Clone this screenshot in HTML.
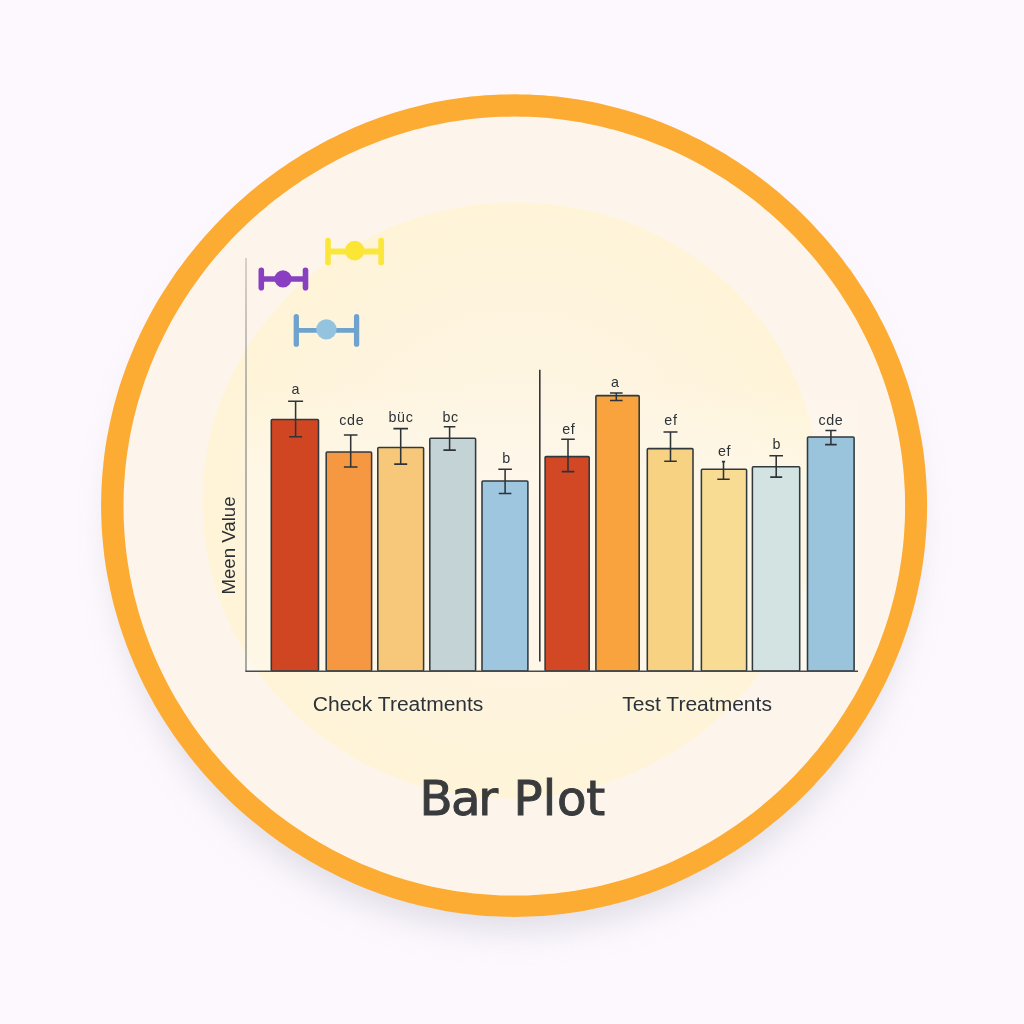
<!DOCTYPE html>
<html lang="en"><head><meta charset="utf-8"><title>Bar Plot</title>
<style>
html,body{margin:0;padding:0;background:#fcf8fd;}
body{width:1024px;height:1024px;overflow:hidden;position:relative;font-family:"Liberation Sans",Arial,sans-serif;}
svg{position:absolute;left:0;top:0;display:block}
text{font-family:"Liberation Sans",Arial,sans-serif;}
</style></head><body>
<svg width="1024" height="1024" viewBox="0 0 1024 1024">
<defs>
<radialGradient id="yg" gradientUnits="userSpaceOnUse" cx="520" cy="500" r="305"><stop offset="0" stop-color="#fdf5e5"/><stop offset="0.6" stop-color="#fef4df"/><stop offset="1" stop-color="#fff4d8"/></radialGradient>
<linearGradient id="pl" x1="0" y1="0" x2="0" y2="1"><stop offset="0" stop-color="#fffaf0" stop-opacity="0"/><stop offset="0.35" stop-color="#fffaf0" stop-opacity="0.55"/><stop offset="1" stop-color="#fffaf0" stop-opacity="0.55"/></linearGradient>
<linearGradient id="ax" gradientUnits="userSpaceOnUse" x1="0" y1="258" x2="0" y2="671"><stop offset="0" stop-color="#c9c5bf"/><stop offset="0.3" stop-color="#a3a19b"/><stop offset="1" stop-color="#8d8d89"/></linearGradient>
<filter id="sh" x="-20%" y="-20%" width="140%" height="140%"><feGaussianBlur stdDeviation="16"/></filter>
</defs>
<rect width="1024" height="1024" fill="#fcf8fd"/>
<ellipse cx="514" cy="530" rx="402" ry="400" fill="#cfccd8" opacity="0.62" filter="url(#sh)"/>
<path d="M927.1 505.6L927.0 512.8L926.8 520.0L926.5 527.2L926.0 534.4L925.4 541.6L924.7 548.8L923.9 555.9L922.9 563.1L921.8 570.2L920.5 577.3L919.1 584.3L917.6 591.4L916.0 598.4L914.3 605.4L912.4 612.3L910.4 619.2L908.3 626.1L906.0 632.9L903.6 639.7L901.2 646.5L898.5 653.2L895.8 659.8L893.0 666.4L890.0 673.0L887.0 679.5L883.8 685.9L880.5 692.3L877.1 698.6L873.6 704.9L870.0 711.1L866.3 717.2L862.4 723.3L858.5 729.3L854.5 735.2L850.4 741.1L846.1 746.8L841.8 752.6L837.4 758.2L832.9 763.8L828.3 769.2L823.6 774.7L818.8 780.0L814.0 785.2L809.0 790.4L804.0 795.5L798.9 800.5L793.7 805.4L788.4 810.2L783.0 814.9L777.6 819.6L772.0 824.1L766.4 828.6L760.8 832.9L755.0 837.2L749.2 841.4L743.3 845.5L737.4 849.4L731.4 853.3L725.3 857.1L719.1 860.7L712.9 864.3L706.7 867.8L700.3 871.1L693.9 874.3L687.5 877.5L681.0 880.5L674.5 883.4L667.9 886.2L661.2 888.9L654.5 891.4L647.8 893.9L641.0 896.2L634.2 898.4L627.3 900.5L620.4 902.5L613.5 904.3L606.5 906.0L599.6 907.6L592.5 909.1L585.5 910.4L578.4 911.7L571.3 912.8L564.2 913.7L557.1 914.6L549.9 915.3L542.8 915.9L535.6 916.3L528.5 916.6L521.3 916.8L514.1 916.9L506.9 916.8L499.7 916.6L492.6 916.3L485.4 915.9L478.3 915.3L471.1 914.6L464.0 913.7L456.9 912.8L449.8 911.7L442.7 910.4L435.7 909.1L428.6 907.6L421.7 906.0L414.7 904.3L407.8 902.5L400.9 900.5L394.0 898.4L387.2 896.2L380.4 893.9L373.7 891.4L367.0 888.9L360.3 886.2L353.7 883.4L347.2 880.5L340.7 877.5L334.3 874.3L327.9 871.1L321.5 867.8L315.3 864.3L309.1 860.7L302.9 857.1L296.8 853.3L290.8 849.4L284.9 845.5L279.0 841.4L273.2 837.2L267.4 832.9L261.8 828.6L256.2 824.1L250.6 819.6L245.2 814.9L239.8 810.2L234.5 805.4L229.3 800.5L224.2 795.5L219.2 790.4L214.2 785.2L209.4 780.0L204.6 774.7L199.9 769.2L195.3 763.8L190.8 758.2L186.4 752.6L182.1 746.8L177.8 741.1L173.7 735.2L169.7 729.3L165.8 723.3L161.9 717.2L158.2 711.1L154.6 704.9L151.1 698.6L147.7 692.3L144.4 685.9L141.2 679.5L138.2 673.0L135.2 666.4L132.4 659.8L129.7 653.2L127.0 646.5L124.6 639.7L122.2 632.9L119.9 626.1L117.8 619.2L115.8 612.3L113.9 605.4L112.2 598.4L110.6 591.4L109.1 584.3L107.7 577.3L106.4 570.2L105.3 563.1L104.3 555.9L103.5 548.8L102.8 541.6L102.2 534.4L101.7 527.2L101.4 520.0L101.2 512.8L101.1 505.6L101.2 498.4L101.4 491.2L101.7 484.0L102.2 476.8L102.8 469.6L103.5 462.4L104.3 455.3L105.3 448.1L106.4 441.0L107.7 433.9L109.1 426.9L110.6 419.8L112.2 412.8L113.9 405.8L115.8 398.9L117.8 392.0L119.9 385.1L122.2 378.3L124.6 371.5L127.0 364.7L129.7 358.0L132.4 351.4L135.2 344.8L138.2 338.2L141.2 331.7L144.4 325.3L147.7 318.9L151.1 312.6L154.6 306.3L158.2 300.1L161.9 294.0L165.8 287.9L169.7 281.9L173.7 276.0L177.8 270.1L182.1 264.4L186.4 258.6L190.8 253.0L195.3 247.4L199.9 242.0L204.6 236.5L209.4 231.2L214.2 226.0L219.2 220.8L224.2 215.7L229.3 210.7L234.5 205.8L239.8 201.0L245.2 196.3L250.6 191.6L256.2 187.1L261.8 182.6L267.4 178.3L273.2 174.0L279.0 169.8L284.9 165.7L290.8 161.8L296.8 157.9L302.9 154.1L309.1 150.5L315.3 146.9L321.5 143.4L327.9 140.1L334.3 136.9L340.7 133.7L347.2 130.7L353.7 127.8L360.3 125.0L367.0 122.3L373.7 119.8L380.4 117.3L387.2 115.0L394.0 112.8L400.9 110.7L407.8 108.7L414.7 106.9L421.7 105.2L428.6 103.6L435.7 102.1L442.7 100.8L449.8 99.5L456.9 98.4L464.0 97.5L471.1 96.6L478.3 95.9L485.4 95.3L492.6 94.9L499.7 94.6L506.9 94.4L514.1 94.3L521.3 94.4L528.5 94.6L535.6 94.9L542.8 95.3L549.9 95.9L557.1 96.6L564.2 97.5L571.3 98.4L578.4 99.5L585.5 100.8L592.5 102.1L599.6 103.6L606.5 105.2L613.5 106.9L620.4 108.7L627.3 110.7L634.2 112.8L641.0 115.0L647.8 117.3L654.5 119.8L661.2 122.3L667.9 125.0L674.5 127.8L681.0 130.7L687.5 133.7L693.9 136.9L700.3 140.1L706.7 143.4L712.9 146.9L719.1 150.5L725.3 154.1L731.4 157.9L737.4 161.8L743.3 165.7L749.2 169.8L755.0 174.0L760.8 178.3L766.4 182.6L772.0 187.1L777.6 191.6L783.0 196.3L788.4 201.0L793.7 205.8L798.9 210.7L804.0 215.7L809.0 220.8L814.0 226.0L818.8 231.2L823.6 236.5L828.3 242.0L832.9 247.4L837.4 253.0L841.8 258.6L846.1 264.4L850.4 270.1L854.5 276.0L858.5 281.9L862.4 287.9L866.3 294.0L870.0 300.1L873.6 306.3L877.1 312.6L880.5 318.9L883.8 325.3L887.0 331.7L890.0 338.2L893.0 344.8L895.8 351.4L898.5 358.0L901.2 364.7L903.6 371.5L906.0 378.3L908.3 385.1L910.4 392.0L912.4 398.9L914.3 405.8L916.0 412.8L917.6 419.8L919.1 426.9L920.5 433.9L921.8 441.0L922.9 448.1L923.9 455.3L924.7 462.4L925.4 469.6L926.0 476.8L926.5 484.0L926.8 491.2L927.0 498.4Z" fill="#fcab33"/>
<path d="M905.1 506.1L905.0 512.9L904.9 519.7L904.5 526.6L904.1 533.4L903.6 540.2L902.9 546.9L902.1 553.7L901.2 560.5L900.1 567.2L899.0 573.9L897.7 580.6L896.3 587.3L894.8 593.9L893.1 600.5L891.4 607.1L889.5 613.7L887.5 620.2L885.4 626.7L883.2 633.1L880.8 639.5L878.4 645.9L875.8 652.2L873.2 658.4L870.4 664.7L867.5 670.8L864.5 676.9L861.4 683.0L858.3 689.0L855.0 694.9L851.6 700.8L848.0 706.6L844.4 712.4L840.7 718.1L837.0 723.7L833.1 729.3L829.1 734.8L825.0 740.2L820.8 745.6L816.6 750.9L812.2 756.1L807.8 761.2L803.3 766.3L798.7 771.3L794.0 776.2L789.2 781.0L784.3 785.7L779.4 790.4L774.4 795.0L769.3 799.4L764.1 803.8L758.9 808.2L753.6 812.4L748.2 816.5L742.8 820.5L737.2 824.5L731.7 828.3L726.0 832.1L720.3 835.8L714.5 839.3L708.7 842.8L702.8 846.1L696.8 849.4L690.8 852.6L684.8 855.6L678.7 858.6L672.5 861.4L666.3 864.2L660.0 866.8L653.7 869.3L647.4 871.7L641.0 874.0L634.6 876.2L628.1 878.3L621.6 880.2L615.0 882.1L608.5 883.8L601.9 885.4L595.2 886.9L588.6 888.3L581.9 889.6L575.2 890.7L568.5 891.7L561.8 892.6L555.0 893.4L548.2 894.1L541.5 894.6L534.7 895.1L527.9 895.4L521.1 895.5L514.3 895.6L507.5 895.5L500.7 895.4L493.9 895.1L487.1 894.6L480.4 894.1L473.6 893.4L466.8 892.6L460.1 891.7L453.4 890.7L446.7 889.6L440.0 888.3L433.4 886.9L426.7 885.4L420.1 883.8L413.6 882.1L407.0 880.2L400.5 878.3L394.0 876.2L387.6 874.0L381.2 871.7L374.9 869.3L368.6 866.8L362.3 864.2L356.1 861.4L349.9 858.6L343.8 855.6L337.8 852.6L331.8 849.4L325.8 846.1L319.9 842.8L314.1 839.3L308.3 835.8L302.6 832.1L296.9 828.3L291.4 824.5L285.8 820.5L280.4 816.5L275.0 812.4L269.7 808.2L264.5 803.8L259.3 799.4L254.2 795.0L249.2 790.4L244.3 785.7L239.4 781.0L234.6 776.2L229.9 771.3L225.3 766.3L220.8 761.2L216.4 756.1L212.0 750.9L207.8 745.6L203.6 740.2L199.5 734.8L195.5 729.3L191.6 723.7L187.9 718.1L184.2 712.4L180.6 706.6L177.0 700.8L173.6 694.9L170.3 689.0L167.2 683.0L164.1 676.9L161.1 670.8L158.2 664.7L155.4 658.4L152.8 652.2L150.2 645.9L147.8 639.5L145.4 633.1L143.2 626.7L141.1 620.2L139.1 613.7L137.2 607.1L135.5 600.5L133.8 593.9L132.3 587.3L130.9 580.6L129.6 573.9L128.5 567.2L127.4 560.5L126.5 553.7L125.7 546.9L125.0 540.2L124.5 533.4L124.1 526.6L123.7 519.7L123.6 512.9L123.5 506.1L123.6 499.3L123.7 492.5L124.1 485.6L124.5 478.8L125.0 472.0L125.7 465.3L126.5 458.5L127.4 451.7L128.5 445.0L129.6 438.3L130.9 431.6L132.3 424.9L133.8 418.3L135.5 411.7L137.2 405.1L139.1 398.5L141.1 392.0L143.2 385.5L145.4 379.1L147.8 372.7L150.2 366.3L152.8 360.0L155.4 353.8L158.2 347.5L161.1 341.4L164.1 335.3L167.2 329.2L170.3 323.2L173.6 317.3L177.0 311.4L180.6 305.6L184.2 299.8L187.9 294.1L191.6 288.5L195.5 282.9L199.5 277.4L203.6 272.0L207.8 266.6L212.0 261.3L216.4 256.1L220.8 251.0L225.3 245.9L229.9 240.9L234.6 236.0L239.4 231.2L244.3 226.5L249.2 221.8L254.2 217.2L259.3 212.8L264.5 208.4L269.7 204.0L275.0 199.8L280.4 195.7L285.8 191.7L291.4 187.7L296.9 183.9L302.6 180.1L308.3 176.4L314.1 172.9L319.9 169.4L325.8 166.1L331.8 162.8L337.8 159.6L343.8 156.6L349.9 153.6L356.1 150.8L362.3 148.0L368.6 145.4L374.9 142.9L381.2 140.5L387.6 138.2L394.0 136.0L400.5 133.9L407.0 132.0L413.6 130.1L420.1 128.4L426.7 126.8L433.4 125.3L440.0 123.9L446.7 122.6L453.4 121.5L460.1 120.5L466.8 119.6L473.6 118.8L480.4 118.1L487.1 117.6L493.9 117.1L500.7 116.8L507.5 116.7L514.3 116.6L521.1 116.7L527.9 116.8L534.7 117.1L541.5 117.6L548.2 118.1L555.0 118.8L561.8 119.6L568.5 120.5L575.2 121.5L581.9 122.6L588.6 123.9L595.2 125.3L601.9 126.8L608.5 128.4L615.0 130.1L621.6 132.0L628.1 133.9L634.6 136.0L641.0 138.2L647.4 140.5L653.7 142.9L660.0 145.4L666.3 148.0L672.5 150.8L678.7 153.6L684.8 156.6L690.8 159.6L696.8 162.8L702.8 166.1L708.7 169.4L714.5 172.9L720.3 176.4L726.0 180.1L731.7 183.9L737.2 187.7L742.8 191.7L748.2 195.7L753.6 199.8L758.9 204.0L764.1 208.4L769.3 212.8L774.4 217.2L779.4 221.8L784.3 226.5L789.2 231.2L794.0 236.0L798.7 240.9L803.3 245.9L807.8 251.0L812.2 256.1L816.6 261.3L820.8 266.6L825.0 272.0L829.1 277.4L833.1 282.9L837.0 288.5L840.7 294.1L844.4 299.8L848.0 305.6L851.6 311.4L855.0 317.3L858.3 323.2L861.4 329.2L864.5 335.3L867.5 341.4L870.4 347.5L873.2 353.8L875.8 360.0L878.4 366.3L880.8 372.7L883.2 379.1L885.4 385.5L887.5 392.0L889.5 398.5L891.4 405.1L893.1 411.7L894.8 418.3L896.3 424.9L897.7 431.6L899.0 438.3L900.1 445.0L901.2 451.7L902.1 458.5L902.9 465.3L903.6 472.0L904.1 478.8L904.5 485.6L904.9 492.5L905.0 499.3Z" fill="#fdf5ec"/>
<path d="M819.6 502.0L819.3 510.1L818.8 518.2L818.0 526.2L817.0 534.3L815.8 542.3L814.4 550.2L812.8 558.1L810.9 566.0L808.8 573.7L806.6 581.5L804.1 589.1L801.4 596.7L798.5 604.2L795.4 611.6L792.2 618.9L788.7 626.1L785.1 633.2L781.2 640.2L777.2 647.1L773.1 653.9L768.7 660.5L764.2 667.1L759.5 673.5L754.7 679.8L749.7 685.9L744.5 691.9L739.2 697.8L733.8 703.5L728.2 709.1L722.5 714.5L716.7 719.8L710.7 724.9L704.6 729.9L698.4 734.7L692.1 739.3L685.7 743.8L679.2 748.1L672.5 752.3L665.8 756.3L659.0 760.1L652.1 763.7L645.1 767.2L638.1 770.5L630.9 773.6L623.7 776.5L616.4 779.3L609.1 781.8L601.7 784.2L594.3 786.4L586.8 788.5L579.2 790.3L571.6 791.9L564.0 793.4L556.4 794.7L548.7 795.8L541.0 796.7L533.2 797.4L525.5 797.9L517.8 798.2L510.0 798.4L502.2 798.3L494.5 798.1L486.7 797.7L479.0 797.0L471.3 796.2L463.6 795.2L455.9 794.0L448.2 792.7L440.6 791.1L433.0 789.3L425.5 787.4L418.0 785.2L410.5 782.9L403.1 780.4L395.8 777.7L388.6 774.8L381.4 771.7L374.2 768.5L367.2 765.0L360.2 761.4L353.4 757.6L346.6 753.6L339.9 749.5L333.3 745.1L326.9 740.6L320.5 736.0L314.3 731.1L308.2 726.2L302.2 721.0L296.3 715.7L290.6 710.2L285.0 704.6L279.6 698.8L274.3 692.9L269.2 686.8L264.2 680.6L259.4 674.2L254.8 667.7L250.3 661.1L246.0 654.4L241.9 647.6L238.0 640.6L234.2 633.5L230.7 626.4L227.3 619.1L224.2 611.7L221.2 604.3L218.5 596.7L216.0 589.1L213.6 581.4L211.5 573.7L209.6 565.8L208.0 558.0L206.5 550.1L205.3 542.1L204.2 534.1L203.5 526.1L202.9 518.1L202.5 510.1L202.4 502.0L202.5 493.9L202.9 485.9L203.4 477.9L204.2 469.9L205.2 461.9L206.5 453.9L207.9 446.0L209.6 438.1L211.5 430.3L213.6 422.6L215.9 414.9L218.5 407.3L221.2 399.7L224.2 392.3L227.3 384.9L230.7 377.6L234.2 370.5L237.9 363.4L241.9 356.4L246.0 349.6L250.3 342.8L254.7 336.2L259.4 329.8L264.2 323.4L269.2 317.2L274.3 311.1L279.6 305.2L285.0 299.4L290.6 293.8L296.3 288.3L302.1 282.9L308.1 277.8L314.2 272.7L320.4 267.9L326.7 263.2L333.2 258.6L339.7 254.3L346.4 250.1L353.2 246.1L360.0 242.2L366.9 238.5L374.0 235.0L381.1 231.7L388.2 228.5L395.5 225.5L402.8 222.7L410.2 220.1L417.6 217.6L425.1 215.4L432.6 213.3L440.2 211.4L447.9 209.6L455.5 208.1L463.2 206.7L471.0 205.5L478.7 204.6L486.5 203.7L494.3 203.1L502.2 202.7L510.0 202.5L517.8 202.4L525.7 202.5L533.5 202.9L541.4 203.4L549.2 204.1L557.0 205.0L564.8 206.1L572.6 207.3L580.4 208.8L588.1 210.5L595.8 212.4L603.4 214.4L611.0 216.7L618.6 219.1L626.1 221.8L633.5 224.6L640.9 227.6L648.2 230.9L655.4 234.3L662.5 237.9L669.5 241.7L676.5 245.7L683.3 249.8L690.0 254.2L696.7 258.7L703.2 263.5L709.6 268.4L715.8 273.4L721.9 278.7L727.9 284.1L733.7 289.7L739.4 295.5L744.9 301.4L750.3 307.4L755.5 313.7L760.5 320.0L765.3 326.5L770.0 333.2L774.4 339.9L778.7 346.9L782.8 353.9L786.7 361.0L790.4 368.3L793.9 375.6L797.1 383.1L800.2 390.6L803.0 398.2L805.6 405.9L808.1 413.7L810.2 421.6L812.2 429.4L813.9 437.4L815.4 445.4L816.7 453.4L817.8 461.5L818.6 469.6L819.2 477.7L819.6 485.8L819.7 493.9Z" fill="url(#yg)"/>

<rect x="247" y="380" width="611" height="291" fill="url(#pl)"/>
<line x1="246.0" y1="258.1" x2="246.0" y2="671" stroke="url(#ax)" stroke-width="1.5"/>
<line x1="539.8" y1="369.8" x2="539.8" y2="661.5" stroke="#33363a" stroke-width="1.6"/>
<rect x="271.3" y="419.4" width="47.2" height="251.6" rx="1" fill="#d04623" stroke="#30393d" stroke-width="1.55"/>
<rect x="326.2" y="452.0" width="45.4" height="219.0" rx="1" fill="#f69742" stroke="#30393d" stroke-width="1.55"/>
<rect x="377.8" y="447.5" width="45.8" height="223.5" rx="1" fill="#f8c87a" stroke="#30393d" stroke-width="1.55"/>
<rect x="429.8" y="438.3" width="45.8" height="232.7" rx="1" fill="#c4d4d6" stroke="#30393d" stroke-width="1.55"/>
<rect x="482.0" y="480.9" width="45.9" height="190.1" rx="1" fill="#9fc6df" stroke="#30393d" stroke-width="1.55"/>
<rect x="545.1" y="456.6" width="44.1" height="214.4" rx="1" fill="#d24824" stroke="#30393d" stroke-width="1.55"/>
<rect x="595.9" y="395.6" width="43.3" height="275.4" rx="1" fill="#f8a33e" stroke="#30393d" stroke-width="1.55"/>
<rect x="647.3" y="448.6" width="45.7" height="222.4" rx="1" fill="#f7d283" stroke="#30393d" stroke-width="1.55"/>
<rect x="701.4" y="469.3" width="45.2" height="201.7" rx="1" fill="#f9dc93" stroke="#30393d" stroke-width="1.55"/>
<rect x="752.4" y="466.8" width="47.3" height="204.2" rx="1" fill="#d3e3e2" stroke="#30393d" stroke-width="1.55"/>
<rect x="807.5" y="437.0" width="46.6" height="234.0" rx="1" fill="#9ac3dc" stroke="#30393d" stroke-width="1.55"/>
<line x1="245.3" y1="671.2" x2="858" y2="671.2" stroke="#454b50" stroke-width="1.4"/>
<path d="M295.6 401.3V436.8M288.1 401.3H303.1M289.1 436.8H302.1" stroke="#2e3338" stroke-width="1.55" fill="none"/>
<path d="M350.7 435.0V467.0M343.9 435.0H357.5M343.9 467.0H357.5" stroke="#2e3338" stroke-width="1.55" fill="none"/>
<path d="M400.7 428.6V464.1M393.4 428.6H408.0M394.2 464.1H407.2" stroke="#2e3338" stroke-width="1.55" fill="none"/>
<path d="M449.6 426.8V450.1M443.8 426.8H455.4M443.4 450.1H455.8" stroke="#2e3338" stroke-width="1.55" fill="none"/>
<path d="M505.1 469.2V493.4M498.3 469.2H511.9M498.8 493.4H511.4" stroke="#2e3338" stroke-width="1.55" fill="none"/>
<path d="M568.0 439.3V471.6M561.2 439.3H574.8M561.7 471.6H574.3" stroke="#2e3338" stroke-width="1.55" fill="none"/>
<path d="M616.3 393.0V400.4M610.0 393.0H622.6M610.0 400.4H622.6" stroke="#2e3338" stroke-width="1.55" fill="none"/>
<path d="M670.5 432.0V461.3M663.5 432.0H677.5M664.2 461.3H676.8" stroke="#2e3338" stroke-width="1.55" fill="none"/>
<path d="M723.5 461.6V479.2M721.9 461.6H725.1M717.3 479.2H729.7" stroke="#2e3338" stroke-width="1.55" fill="none"/>
<path d="M776.2 455.8V477.1M769.4 455.8H783.0M770.2 477.1H782.2" stroke="#2e3338" stroke-width="1.55" fill="none"/>
<path d="M830.9 430.4V444.6M825.4 430.4H836.4M825.1 444.6H836.7" stroke="#2e3338" stroke-width="1.55" fill="none"/>
<text x="295.8" y="393.6" font-size="14.3" text-anchor="middle" letter-spacing="0.6" fill="#2b3238">a</text>
<text x="351.8" y="424.9" font-size="14.3" text-anchor="middle" letter-spacing="0.6" fill="#2b3238">cde</text>
<text x="401.0" y="422.4" font-size="14.3" text-anchor="middle" letter-spacing="0.6" fill="#2b3238">büc</text>
<text x="450.6" y="422.4" font-size="14.3" text-anchor="middle" letter-spacing="0.6" fill="#2b3238">bc</text>
<text x="506.5" y="463.4" font-size="14.3" text-anchor="middle" letter-spacing="0.6" fill="#2b3238">b</text>
<text x="568.8" y="433.5" font-size="14.3" text-anchor="middle" letter-spacing="0.6" fill="#2b3238">ef</text>
<text x="615.3" y="387.3" font-size="14.3" text-anchor="middle" letter-spacing="0.6" fill="#2b3238">a</text>
<text x="670.9" y="425.4" font-size="14.3" text-anchor="middle" letter-spacing="0.6" fill="#2b3238">ef</text>
<text x="724.6" y="455.8" font-size="14.3" text-anchor="middle" letter-spacing="0.6" fill="#2b3238">ef</text>
<text x="776.7" y="449.0" font-size="14.3" text-anchor="middle" letter-spacing="0.6" fill="#2b3238">b</text>
<text x="830.9" y="425.1" font-size="14.3" text-anchor="middle" letter-spacing="0.6" fill="#2b3238">cde</text>
<g stroke="#fbe73b" stroke-linecap="round" fill="none"><line x1="328.0" y1="251.5" x2="381.2" y2="251.5" stroke-width="6" stroke-linecap="butt"/><line x1="328.0" y1="240.6" x2="328.0" y2="262.4" stroke-width="5.7"/><line x1="381.2" y1="240.6" x2="381.2" y2="262.4" stroke-width="5.7"/></g><circle cx="354.7" cy="250.6" r="9.8" fill="#fbe635"/>
<g stroke="#8740c0" stroke-linecap="round" fill="none"><line x1="261.3" y1="279.1" x2="305.5" y2="279.1" stroke-width="5.5" stroke-linecap="butt"/><line x1="261.3" y1="270.40000000000003" x2="261.3" y2="287.8" stroke-width="5.6"/><line x1="305.5" y1="270.40000000000003" x2="305.5" y2="287.8" stroke-width="5.6"/></g><circle cx="283" cy="278.9" r="8.6" fill="#8a3fc2"/>
<g stroke="#6fa2cd" stroke-linecap="round" fill="none"><line x1="296.3" y1="330.4" x2="356.6" y2="330.4" stroke-width="4.8" stroke-linecap="butt"/><line x1="296.3" y1="316.65" x2="296.3" y2="344.15" stroke-width="5.3"/><line x1="356.6" y1="316.65" x2="356.6" y2="344.15" stroke-width="5.3"/></g><circle cx="326.4" cy="329.4" r="10.2" fill="#94c3e0"/>
<text transform="translate(234.6 594.5) rotate(-90)" font-size="17.6" textLength="98" lengthAdjust="spacingAndGlyphs" fill="#2a2f34">Meen Value</text>
<text x="312.8" y="711.3" font-size="19.6" textLength="170.6" lengthAdjust="spacingAndGlyphs" fill="#2b3238">Check Treatments</text>
<text x="622.3" y="711.3" font-size="20.3" textLength="149.6" lengthAdjust="spacingAndGlyphs" fill="#2b3238">Test Treatments</text>
<text x="419.5 451.1 478.2 500 513.5 542.8 556.9 586.3" y="814.7" font-size="48.3" style="font-family:'DejaVu Sans','Liberation Sans',sans-serif" fill="#3a3b3d" stroke="#3a3b3d" stroke-width="1.0">Bar Plot</text>
</svg></body></html>
